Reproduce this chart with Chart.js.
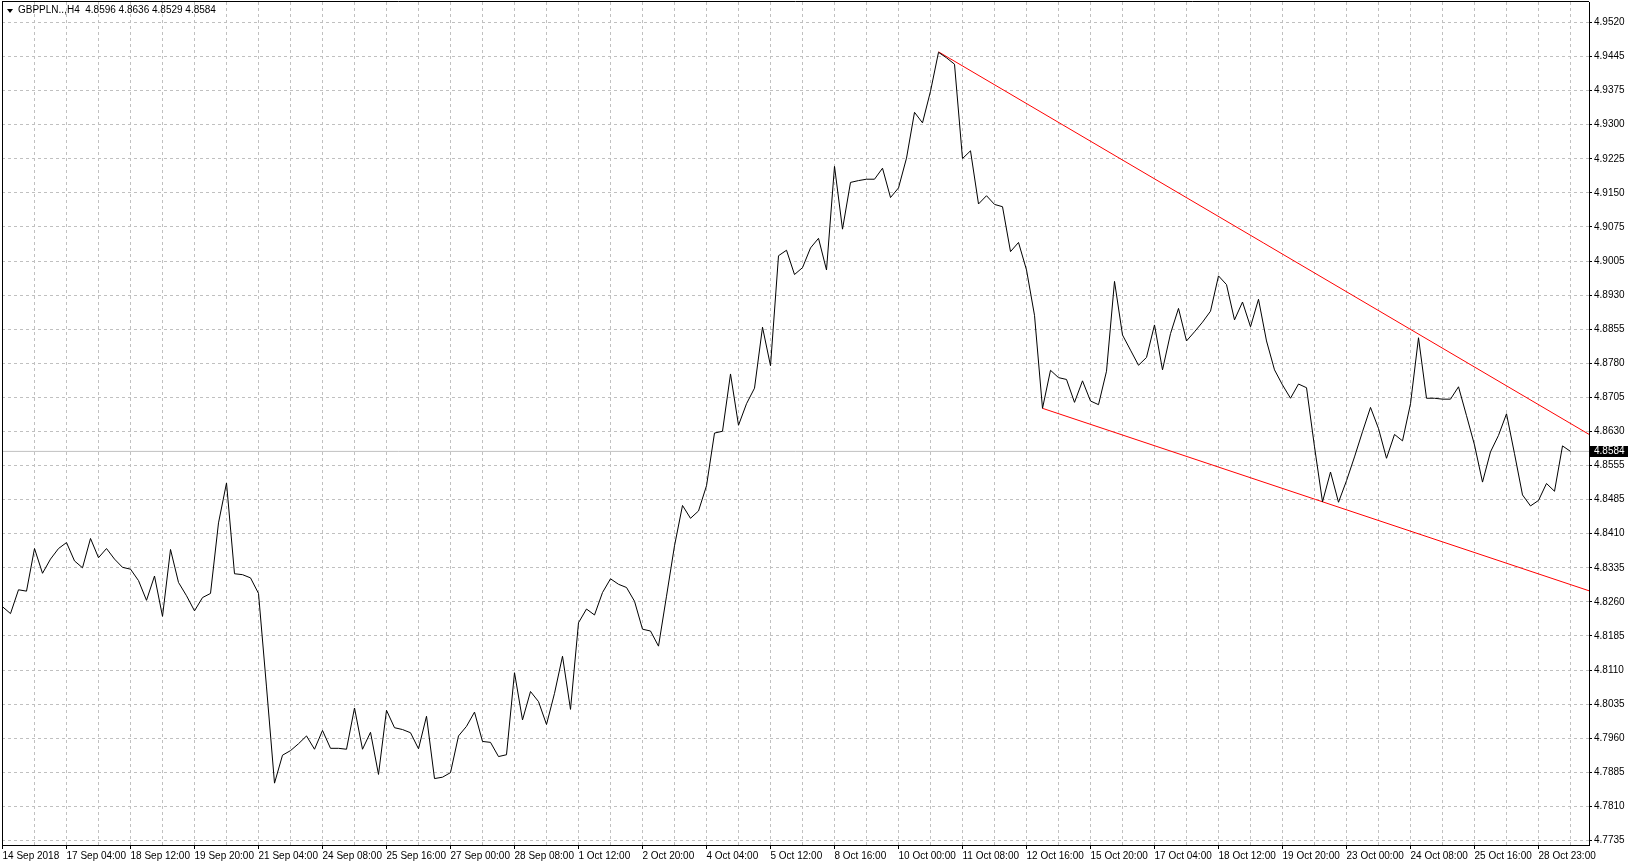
<!DOCTYPE html>
<html>
<head>
<meta charset="utf-8">
<title>GBPPLN H4</title>
<script src="https://cdn.jsdelivr.net/npm/chart.js@4.4.1/dist/chart.umd.min.js"></script>
<style>
    body { margin: 0; background: #fff; }
    .wrap { position: relative; width: 1628px; height: 866px; }
    .head { position: absolute; left: 18px; top: 4px; font: 10px 'Liberation Sans', Arial, sans-serif; color: #000; white-space: pre; line-height: 12px; }
    .arrow { position: absolute; left: 7px; top: 9px; width: 0; height: 0; border-left: 3px solid transparent; border-right: 3px solid transparent; border-top: 4px solid #000; }
</style>
</head>
<body>
<div class="wrap">
    <canvas id="chart" width="1628" height="866"></canvas>
    <div class="arrow"></div>
    <div class="head"></div>
</div>
<script>
// GBPPLN, H4 closes, 14 Sep 2018 .. 29 Oct 2018 (one value per bar)
const closes = [
    4.8245, 4.8230, 4.8282, 4.8279, 4.8372, 4.8318, 4.8349, 4.8372, 4.8385, 4.8345,
    4.8330, 4.8394, 4.8352, 4.8372, 4.8349, 4.8331, 4.8327, 4.8302, 4.8259, 4.8312,
    4.8224, 4.8370, 4.8298, 4.8269, 4.8236, 4.8265, 4.8274, 4.8428, 4.8515, 4.8317,
    4.8315, 4.8308, 4.8274, 4.8070, 4.7860, 4.7921, 4.7931, 4.7946, 4.7963, 4.7934,
    4.7975, 4.7936, 4.7936, 4.7934, 4.8024, 4.7934, 4.7971, 4.7879, 4.8019, 4.7981,
    4.7977, 4.7970, 4.7935, 4.8006, 4.7870, 4.7873, 4.7883, 4.7963, 4.7984, 4.8015,
    4.7951, 4.7949, 4.7918, 4.7922, 4.8101, 4.7998, 4.8060, 4.8038, 4.7988, 4.8056,
    4.8137, 4.8021, 4.8210, 4.8240, 4.8227, 4.8276, 4.8306, 4.8294, 4.8287, 4.8257,
    4.8196, 4.8192, 4.8159, 4.8268, 4.8378, 4.8466, 4.8438, 4.8454, 4.8509, 4.8624,
    4.8628, 4.8753, 4.8641, 4.8688, 4.8722, 4.8855, 4.8771, 4.9011, 4.9023, 4.8970,
    4.8985, 4.9028, 4.9049, 4.8980, 4.9206, 4.9069, 4.9171, 4.9175, 4.9178, 4.9178,
    4.9202, 4.9138, 4.9159, 4.9224, 4.9324, 4.9301, 4.9370, 4.9455, 4.9443, 4.9429,
    4.9223, 4.9240, 4.9124, 4.9142, 4.9123, 4.9118, 4.9020, 4.9040, 4.8980, 4.8881,
    4.8678, 4.8761, 4.8745, 4.8741, 4.8691, 4.8738, 4.8694, 4.8686, 4.8759, 4.8955,
    4.8838, 4.8805, 4.8772, 4.8789, 4.8860, 4.8762, 4.8841, 4.8896, 4.8825, 4.8845,
    4.8866, 4.8890, 4.8967, 4.8948, 4.8871, 4.8910, 4.8856, 4.8916, 4.8825, 4.8762,
    4.8729, 4.8700, 4.8731, 4.8723, 4.8594, 4.8474, 4.8539, 4.8473, 4.8520, 4.8572,
    4.8627, 4.8680, 4.8634, 4.8569, 4.8621, 4.8607, 4.8688, 4.8832, 4.8700, 4.8700,
    4.8698, 4.8698, 4.8725, 4.8662, 4.8598, 4.8517, 4.8583, 4.8619, 4.8666, 4.8579,
    4.8489, 4.8465, 4.8477, 4.8514, 4.8497, 4.8596, 4.8584
];

// open, high, low, close of the last bar
const lastBar = [4.8596, 4.8636, 4.8529, 4.8584];
const symbol = 'GBPPLN..,H4';

// time labels, one every 8 bars
const timeLabels = ['14 Sep 2018', '17 Sep 04:00', '18 Sep 12:00', '19 Sep 20:00', '21 Sep 04:00',
    '24 Sep 08:00', '25 Sep 16:00', '27 Sep 00:00', '28 Sep 08:00', '1 Oct 12:00', '2 Oct 20:00',
    '4 Oct 04:00', '5 Oct 12:00', '8 Oct 16:00', '10 Oct 00:00', '11 Oct 08:00', '12 Oct 16:00',
    '15 Oct 20:00', '17 Oct 04:00', '18 Oct 12:00', '19 Oct 20:00', '23 Oct 00:00', '24 Oct 08:00',
    '25 Oct 16:00', '28 Oct 23:00'];

// price scale labels, bottom to top
const priceLabels = ['4.7735', '4.7810', '4.7885', '4.7960', '4.8035', '4.8110', '4.8185', '4.8260',
    '4.8335', '4.8410', '4.8485', '4.8555', '4.8630', '4.8705', '4.8780', '4.8855', '4.8930', '4.9005',
    '4.9075', '4.9150', '4.9225', '4.9300', '4.9375', '4.9445', '4.9520'];

// trend lines: two anchor points each [bar, price]
const upperTrend = [[117, 4.9456], [177, 4.8840]];
const lowerTrend = [[130, 4.8678], [165, 4.8474]];

const xMin = -0.0625;
const xMax = 198.3125;
const yMin = 4.772502;
const yMax = 4.956474;

const head = document.querySelector('.head');
head.textContent = symbol + '  ' + lastBar.map(v => v.toFixed(4)).join(' ');

const priceLow = parseFloat(priceLabels[0]);
const priceHigh = parseFloat(priceLabels[priceLabels.length - 1]);
const priceStep = (priceHigh - priceLow) / (priceLabels.length - 1);

function ray(anchors) {
    const [a, b] = anchors;
    const slope = (b[1] - a[1]) / (b[0] - a[0]);
    return [{x: a[0], y: a[1]}, {x: xMax, y: a[1] + slope * (xMax - a[0])}];
}

const lastClose = closes[closes.length - 1];

const chartFrame = {
    id: 'chartFrame',
    afterDraw(chart) {
        const ctx = chart.ctx;
        const area = chart.chartArea;
        ctx.save();
        ctx.strokeStyle = '#000';
        ctx.lineWidth = 1;
        ctx.beginPath();
        ctx.moveTo(2.5, area.bottom);
        ctx.lineTo(2.5, 1);
        ctx.moveTo(2, 1.5);
        ctx.lineTo(area.right, 1.5);
        ctx.stroke();

        // current price tag on the price scale
        const y = Math.round(chart.scales.y.getPixelForValue(lastClose));
        ctx.fillStyle = '#000';
        ctx.fillRect(area.right + 1, y - 5, 40, 11);
        ctx.fillStyle = '#fff';
        ctx.font = "10px 'Liberation Sans', Arial, sans-serif";
        ctx.textBaseline = 'middle';
        ctx.fillText(lastClose.toFixed(4), area.right + 5, y + 0.5);
        ctx.restore();
    }
};

const chart = document.querySelector('#chart').getContext('2d');

Chart.defaults.font.family = "'Liberation Sans', Arial, sans-serif";
Chart.defaults.font.size = 10;
Chart.defaults.color = '#000';

new Chart(chart, {
    type: 'line',
    data: {
        datasets: [
            {
                label: 'GBPPLN',
                data: closes.map((v, i) => ({x: i, y: v})),
                borderColor: '#000',
                borderWidth: 1,
                pointRadius: 0,
                tension: 0
            },
            {
                label: 'upper',
                data: ray(upperTrend),
                borderColor: '#ff0000',
                borderWidth: 1,
                pointRadius: 0
            },
            {
                label: 'lower',
                data: ray(lowerTrend),
                borderColor: '#ff0000',
                borderWidth: 1,
                pointRadius: 0
            },
            {
                label: 'price',
                data: [{x: xMin, y: lastClose}, {x: xMax, y: lastClose}],
                borderColor: '#c0c0c0',
                borderWidth: 1,
                pointRadius: 0
            }
        ]
    },
    options: {
        responsive: false,
        animation: false,
        layout: { padding: { left: 2, top: 2, right: 0, bottom: 0 } },
        plugins: {
            legend: { display: false },
            tooltip: { enabled: false }
        },
        scales: {
            x: {
                type: 'linear',
                min: xMin,
                max: xMax,
                afterBuildTicks: scale => {
                    const ticks = [];
                    for (let i = 0; i < closes.length; i += 4) ticks.push({value: i});
                    scale.ticks = ticks;
                },
                afterFit: scale => {
                    scale.height = 21;
                    scale.paddingLeft = 0;
                    scale.paddingRight = 0;
                },
                ticks: {
                    autoSkip: false,
                    maxRotation: 0,
                    minRotation: 0,
                    align: 'start',
                    padding: 1,
                    callback: value => value % 8 === 0 ? timeLabels[value / 8] : ''
                },
                grid: {
                    color: '#c0c0c0',
                    tickLength: 4,
                    tickColor: c => (c.tick && c.tick.value % 8 === 0) ? '#000' : 'rgba(0,0,0,0)'
                },
                border: { color: '#000', dash: [3, 3] }
            },
            y: {
                type: 'linear',
                position: 'right',
                min: yMin,
                max: yMax,
                afterBuildTicks: scale => {
                    scale.ticks = priceLabels.map((l, k) => ({value: priceLow + k * priceStep}));
                },
                afterFit: scale => {
                    scale.width = 39;
                    scale.paddingTop = 0;
                    scale.paddingBottom = 0;
                },
                ticks: {
                    padding: 2,
                    callback: (value, index) => priceLabels[index]
                },
                grid: {
                    color: '#c0c0c0',
                    tickLength: 3,
                    tickColor: '#000'
                },
                border: { color: '#000', dash: [3, 3] }
            }
        }
    },
    plugins: [chartFrame]
});
</script>
</body>
</html>
